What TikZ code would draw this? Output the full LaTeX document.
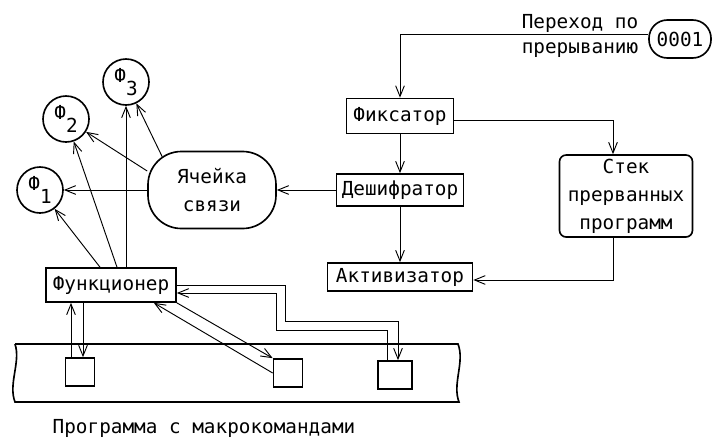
\documentclass[tikz,border=0pt]{standalone}
\usepackage{fontspec}
\setmonofont{DejaVu Sans Mono}
\usetikzlibrary{arrows.meta}

\begin{document}
\begin{tikzpicture}[x=0.03cm,y=-0.03cm,
  font=\ttfamily\fontsize{16.5}{24}\selectfont,
  >={Straight Barb[length=3.2mm,width=2.6mm]},
  box/.style={draw,line width=1.4pt,inner sep=0pt,align=center},
  funcbox/.style={circle,draw,line width=1.4pt,inner sep=0pt,minimum size=1.38cm},
  cellbox/.style={box,minimum width=0.87cm,minimum height=0.84cm},
  link/.style={->,line width=0.8pt}]

\useasboundingbox (0,0) rectangle (713,441);

% interrupt entry
\node[box,rounded corners=0.55cm,minimum width=1.86cm,minimum height=1.14cm]
      (start) at (680,39) {0001};
\node[align=center] (jump) at (580,36) {Переход по\\[-2pt]прерыванию};

% interrupt handling chain
\node[box,minimum width=3.21cm,minimum height=1.05cm]
      (fix) at (400,116) {Фиксатор};
\node[box,minimum width=3.81cm,minimum height=0.96cm]
      (desh) at (400,190) {Дешифратор};
\node[box,minimum width=4.35cm,minimum height=0.84cm]
      (akt) at (400,277) {Активизатор};
\node[box,rounded corners=0.2cm,minimum width=3.99cm,minimum height=2.46cm]
      (stek) at (626,196) {Стек\\прерванных\\программ};

% link cell and functions
\node[box,rounded corners=1cm,minimum width=3.84cm,minimum height=2.31cm]
      (cell) at (212,190) {Ячейка\\связи};
\node[funcbox] (f1) at (40,190) {Ф\raisebox{-11pt}{1}};
\node[funcbox] (f2) at (66,119) {Ф\raisebox{-11pt}{2}};
\node[funcbox] (f3) at (126,82) {Ф\raisebox{-11pt}{3}};
\node[box,minimum width=3.9cm,minimum height=1.02cm]
      (func) at (111,285) {Функционер};

% program with macro commands
\draw[line width=1.4pt] (15,344) -- (458,344)
      .. controls (465,362) and (452,384) .. (459,402) -- (15,402)
      .. controls (8,384) and (21,362) .. (15,344);
\node[cellbox] (m1) at (80,372) {};
\node[cellbox] (m2) at (288,373) {};
\node[cellbox,minimum width=1.02cm] (m3) at (395,375) {};
\node (prog) at (204,428) {Программа с макрокомандами};

% connectors
\draw[link] ([yshift=0.15cm]start.west) -| (fix.north);
\draw[link] (fix) -- (desh);
\draw[link] (desh) -- (akt);
\draw[link] ([yshift=-0.12cm]fix.east) -| ([xshift=-0.39cm]stek.north);
\draw[link] ([xshift=-0.39cm]stek.south) |- ([yshift=-0.09cm]akt.east);
\draw[link] (desh) -- (cell);

\draw[link] (cell) -- (f1);
\draw[link] ([yshift=0.57cm]cell.west) -- (f2);
\draw[link] ([xshift=0.45cm,yshift=-0.18cm]cell.north west) -- (f3);

\draw[link] ([xshift=-0.33cm]func.north) -- (f1);
\draw[link] ([xshift=0.18cm]func.north) -- (f2);
\draw[link] (func.north -| f3.south) -- (f3.south);

\draw[link] ([xshift=-0.27cm]m1.north) -- ([xshift=-0.27cm]m1.north |- func.south);
\draw[link] ([xshift=0.09cm]func.south -| m1.north) -- ([xshift=0.09cm]m1.north);
\draw[link] (func.south east) -- (m2.north west);
\draw[link] (m2.west) -- ([xshift=-0.69cm]func.south east);
\draw[link] (func.east) -| (285,321) -| ([xshift=0.09cm]m3.north);
\draw[link] ([xshift=-0.24cm]m3.north) |- (276,330) |- ([yshift=-0.24cm]func.east);

\end{tikzpicture}
\end{document}
